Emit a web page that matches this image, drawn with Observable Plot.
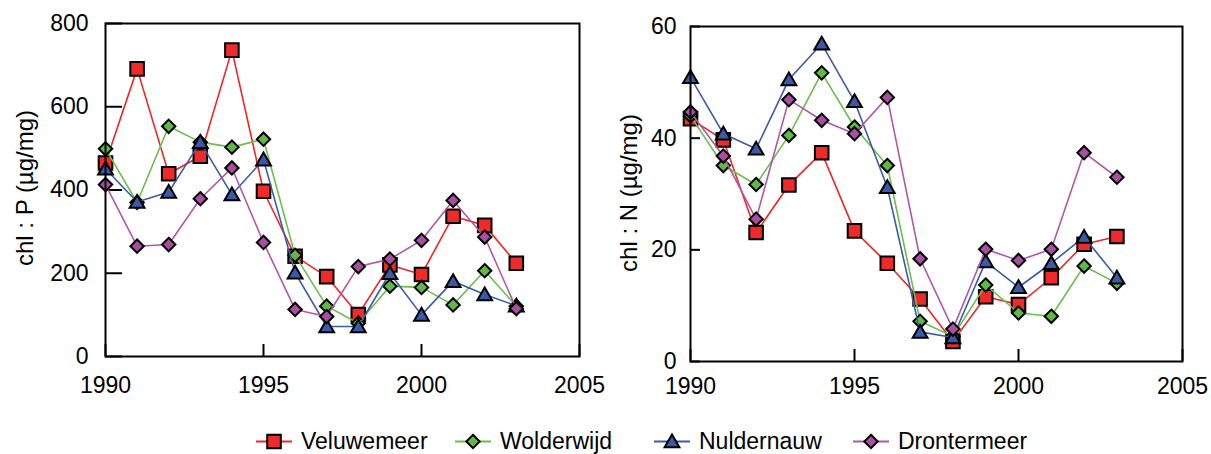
<!DOCTYPE html>
<html><head><meta charset="utf-8">
<script src="https://cdn.jsdelivr.net/npm/d3@7"></script>
<script src="https://cdn.jsdelivr.net/npm/@observablehq/plot@0.6"></script>
<style>
body{margin:0;background:#fff;font-family:"Liberation Sans",Arial,sans-serif;color:#000;}
#wrap{position:relative;width:1211px;height:454px;overflow:hidden;background:#fff}
.panel{position:absolute;top:0}
.ylab{position:absolute;font-size:24px;white-space:nowrap;transform:translate(-50%,-50%) rotate(-90deg)}
.leg{position:absolute;top:441px;display:flex;align-items:center;transform:translateY(-50%);font-size:23px;white-space:nowrap}
.leg svg{margin-right:9px}
</style></head><body><div id="wrap"></div>
<script>
// ---- data ----
const years = [1990,1991,1992,1993,1994,1995,1996,1997,1998,1999,2000,2001,2002,2003];
const seriesNames = ["Veluwemeer","Wolderwijd","Nuldernauw","Drontermeer"];
const lineColors = ["#f02626","#6abf4b","#3b5ba5","#b057aa"];
const fillColors = ["#ee2a2a","#5fb946","#3a5aa8","#a84fa2"];
const symbolNames = ["square","diamond","triangle","diamond"];

// chl : P (µg/mg)
const veluwemeerP  = [465,691,439,481,736,397,241,192,101,220,197,337,315,224];
const wolderwijdP  = [499,370,553,515,503,522,243,121,80,169,166,124,206,121];
const nuldernauwP  = [451,371,395,515,389,473,201,72,72,200,100,181,149,122];
const drontermeerP = [413,265,269,379,453,274,113,96,216,234,279,375,287,115];

// chl : N (µg/mg)
const veluwemeerN  = [43.5,39.7,23.1,31.6,37.4,23.4,17.6,11.2,3.6,11.6,10.2,15.0,21.0,22.4];
const wolderwijdN  = [44.0,35.1,31.7,40.5,51.7,42.0,35.1,7.2,4.5,13.7,8.7,8.1,17.1,14.0];
const nuldernauwN  = [50.9,40.8,38.1,50.5,56.9,46.6,31.2,5.3,4.3,17.9,13.3,17.6,22.3,15.0];
const drontermeerN = [44.7,36.8,25.5,46.9,43.2,40.8,47.3,18.4,5.8,20.1,18.1,20.1,37.4,33.0];

const xTicks = [1990,1995,2000,2005];
const yTicksP = [0,200,400,600,800];
const yTicksN = [0,20,40,60];
const yLabelP = "chl : P (µg/mg)";
const yLabelN = "chl : N (µg/mg)";

// ---- symbols ----
const symSquare = {draw(ctx, size){ const r = Math.sqrt(size/Math.PI); ctx.rect(-r,-r,2*r,2*r); }};
const symDiamond = {draw(ctx, size){ const r = Math.sqrt(size/Math.PI); ctx.moveTo(0,-r); ctx.lineTo(r,0); ctx.lineTo(0,r); ctx.lineTo(-r,0); ctx.closePath(); }};
const symTriangle = {draw(ctx, size){ const r = Math.sqrt(size/Math.PI); ctx.moveTo(0,-0.95*r); ctx.lineTo(r,0.78*r); ctx.lineTo(-r,0.78*r); ctx.closePath(); }};
const symbolMap = {square: symSquare, diamond: symDiamond, triangle: symTriangle};
const symbolR = {square: 6.8, diamond: 6.7, triangle: 7.4};

function table(arrays){
  const rows = [];
  arrays.forEach((arr, s) => arr.forEach((v, i) => rows.push({year: years[i], value: v, series: seriesNames[s], s})));
  return rows;
}

function panel({arrays, yDomain, yTicks, width, height, mL, mR, mT, mB, ytick, xpad, ypad}){
  const rows = table(arrays);
  const innerW = width - mL - mR, innerH = height - mT - mB;
  const marks = [
    Plot.axisX(xTicks, {tickSize: 0, tickPadding: xpad, tickFormat: d => String(d), fontSize: 23, label: null}),
    Plot.axisY(yTicks, {tickSize: 0, tickPadding: ypad, tickFormat: d => String(d), fontSize: 23, label: null}),
    Plot.ruleY(yTicks, {stroke: "#000", strokeWidth: 2, insetRight: innerW - ytick}),
    Plot.ruleX(xTicks, {stroke: "#000", strokeWidth: 2, insetTop: innerH - 12}),
  ];
  seriesNames.forEach((name, s) => {
    const data = rows.filter(d => d.s === s);
    marks.push(Plot.line(data, {x: "year", y: "value", stroke: lineColors[s], strokeWidth: 1.6}));
    marks.push(Plot.dot(data, {x: "year", y: "value", symbol: symbolMap[symbolNames[s]], r: symbolR[symbolNames[s]],
      fill: fillColors[s], stroke: "#000", strokeWidth: 2}));
  });
  marks.push(Plot.frame({stroke: "#000", strokeWidth: 2}));
  return Plot.plot({
    width, height, marginLeft: mL, marginRight: mR, marginTop: mT, marginBottom: mB,
    x: {domain: [1990, 2005]},
    y: {domain: yDomain},
    style: {fontFamily: '"Liberation Sans", Arial, sans-serif', fontSize: "23px", background: "transparent", overflow: "visible", color: "#000"},
    marks
  });
}

const wrap = document.getElementById("wrap");
const left = panel({arrays: [veluwemeerP, wolderwijdP, nuldernauwP, drontermeerP], yDomain: [0, 800], yTicks: yTicksP,
  width: 600, height: 410, mL: 105, mR: 21, mT: 23, mB: 54, ytick: 17, xpad: 20, ypad: 17});
left.classList.add("panel"); left.style.left = "0px";
wrap.appendChild(left);
const right = panel({arrays: [veluwemeerN, wolderwijdN, nuldernauwN, drontermeerN], yDomain: [0, 60], yTicks: yTicksN,
  width: 611, height: 410, mL: 90, mR: 29, mT: 26, mB: 49, ytick: 10, xpad: 16, ypad: 14});
right.classList.add("panel"); right.style.left = "600px";
wrap.appendChild(right);

function addYLabel(text, x, y){
  const d = document.createElement("div");
  d.className = "ylab"; d.textContent = text;
  d.style.left = x + "px"; d.style.top = y + "px";
  wrap.appendChild(d);
}
addYLabel(yLabelP, 25, 188);
addYLabel(yLabelN, 629, 193);

// legend
const legendX = [256, 455, 654, 853];
seriesNames.forEach((name, s) => {
  const item = document.createElement("div");
  item.className = "leg"; item.style.left = legendX[s] + "px";
  const ns = "http://www.w3.org/2000/svg";
  const svg = document.createElementNS(ns, "svg");
  svg.setAttribute("width", 36); svg.setAttribute("height", 22);
  const line = document.createElementNS(ns, "line");
  line.setAttribute("x1", 0); line.setAttribute("x2", 36); line.setAttribute("y1", 11); line.setAttribute("y2", 11);
  line.setAttribute("stroke", lineColors[s]); line.setAttribute("stroke-width", 2);
  svg.appendChild(line);
  const sym = symbolMap[symbolNames[s]];
  const r = symbolR[symbolNames[s]];
  const p = d3.path(); sym.draw(p, Math.PI * r * r);
  const path = document.createElementNS(ns, "path");
  path.setAttribute("d", p.toString()); path.setAttribute("transform", "translate(18,11)");
  path.setAttribute("fill", fillColors[s]); path.setAttribute("stroke", "#000"); path.setAttribute("stroke-width", 2);
  svg.appendChild(path);
  item.appendChild(svg);
  const t = document.createElement("span"); t.textContent = name;
  item.appendChild(t);
  wrap.appendChild(item);
});
</script></body></html>
